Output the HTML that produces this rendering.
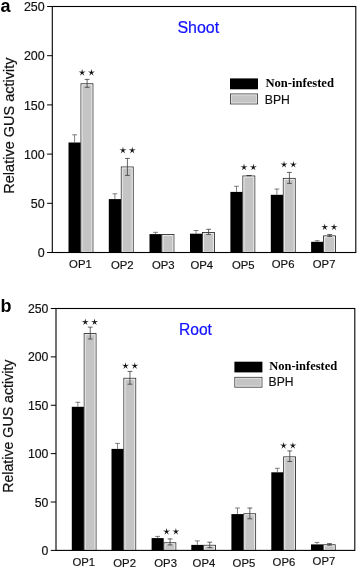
<!DOCTYPE html>
<html><head><meta charset="utf-8"><title>GUS activity</title>
<style>
html,body{margin:0;padding:0;background:#fff;}
body{width:358px;height:569px;overflow:hidden;}
svg{display:block;}
text{font-family:"Liberation Sans",sans-serif;fill:#111;}
.tk{font-size:12.4px;stroke:#111;stroke-width:0.18px;}
.yt{font-size:14.5px;stroke:#111;stroke-width:0.2px;}
.pl{font-size:18px;font-weight:bold;fill:#000;}
.ti{font-size:16px;fill:#1212ff;stroke:#1212ff;stroke-width:0.2px;}
.lg1{font-family:"Liberation Serif",serif;font-weight:bold;font-size:12.6px;fill:#000;}
.lg2{font-size:12.4px;stroke:#111;stroke-width:0.18px;}
.st{font-family:"Liberation Serif",serif;font-weight:bold;font-size:12.6px;fill:#111;}
</style></head><body>
<svg width="358" height="569" viewBox="0 0 358 569">
<defs>
<filter id="idf" x="0" y="0" width="358" height="569" filterUnits="userSpaceOnUse" color-interpolation-filters="sRGB"><feOffset dx="0" dy="0"/></filter>
<pattern id="hatch" width="2" height="2" patternUnits="userSpaceOnUse">
<rect width="2" height="2" fill="#c7c7c7"/>
<rect width="1" height="1" fill="#c2c2c2"/>
<rect x="1" y="1" width="1" height="1" fill="#c2c2c2"/>
</pattern>
</defs>
<rect width="358" height="569" fill="#fff"/>
<g filter="url(#idf)">
<rect x="68.50" y="142.50" width="12.20" height="110.00" fill="#000"/>
<path d="M74.60 142.50V134.80M72.20 134.80H77.00" stroke="#4a4a4a" stroke-width="0.7" fill="none"/>
<rect x="81.00" y="83.80" width="11.90" height="168.70" fill="url(#hatch)" stroke="#2c2c2c" stroke-width="0.9"/>
<rect x="82.00" y="84.80" width="9.90" height="167.20" fill="none" stroke="#e9e9e9" stroke-width="1.1"/>
<path d="M87.10 79.40V87.30M84.70 79.40H89.50M84.70 87.30H89.50" stroke="#333" stroke-width="0.75" fill="none"/>
<polygon points="82.15,69.00 82.80,71.81 85.67,71.56 83.20,73.04 84.32,75.69 82.15,73.80 79.98,75.69 81.10,73.04 78.63,71.56 81.50,71.81" fill="#111"/>
<polygon points="91.45,69.00 92.10,71.81 94.97,71.56 92.50,73.04 93.62,75.69 91.45,73.80 89.28,75.69 90.40,73.04 87.93,71.56 90.80,71.81" fill="#111"/>
<text transform="translate(69.10 268.20) scale(0.96 1)" class="tk" style="font-size:11.8px">OP1</text>
<rect x="108.80" y="199.10" width="12.20" height="53.40" fill="#000"/>
<path d="M114.90 199.10V193.80M112.50 193.80H117.30" stroke="#4a4a4a" stroke-width="0.7" fill="none"/>
<rect x="121.30" y="167.00" width="11.90" height="85.50" fill="url(#hatch)" stroke="#2c2c2c" stroke-width="0.9"/>
<rect x="122.30" y="168.00" width="9.90" height="84.00" fill="none" stroke="#e9e9e9" stroke-width="1.1"/>
<path d="M127.40 158.40V175.40M125.00 158.40H129.80M125.00 175.40H129.80" stroke="#333" stroke-width="0.75" fill="none"/>
<polygon points="122.95,146.80 123.60,149.61 126.47,149.36 124.00,150.84 125.12,153.49 122.95,151.60 120.78,153.49 121.90,150.84 119.43,149.36 122.30,149.61" fill="#111"/>
<polygon points="132.25,146.80 132.90,149.61 135.77,149.36 133.30,150.84 134.42,153.49 132.25,151.60 130.08,153.49 131.20,150.84 128.73,149.36 131.60,149.61" fill="#111"/>
<text transform="translate(111.00 269.20) scale(0.96 1)" class="tk" style="font-size:11.8px">OP2</text>
<rect x="149.50" y="234.10" width="12.20" height="18.40" fill="#000"/>
<path d="M155.60 234.10V232.30M153.20 232.30H158.00" stroke="#4a4a4a" stroke-width="0.7" fill="none"/>
<rect x="162.00" y="234.50" width="11.90" height="18.00" fill="url(#hatch)" stroke="#2c2c2c" stroke-width="0.9"/>
<rect x="163.00" y="235.50" width="9.90" height="16.50" fill="none" stroke="#e9e9e9" stroke-width="1.1"/>
<text transform="translate(152.00 269.30) scale(0.96 1)" class="tk" style="font-size:11.8px">OP3</text>
<rect x="190.00" y="233.70" width="12.20" height="18.80" fill="#000"/>
<path d="M196.10 233.70V230.50M193.70 230.50H198.50" stroke="#4a4a4a" stroke-width="0.7" fill="none"/>
<rect x="202.50" y="232.50" width="11.90" height="20.00" fill="url(#hatch)" stroke="#2c2c2c" stroke-width="0.9"/>
<rect x="203.50" y="233.50" width="9.90" height="18.50" fill="none" stroke="#e9e9e9" stroke-width="1.1"/>
<path d="M208.60 229.30V234.40M206.20 229.30H211.00M206.20 234.40H211.00" stroke="#333" stroke-width="0.75" fill="none"/>
<text transform="translate(190.40 269.30) scale(0.96 1)" class="tk" style="font-size:11.8px">OP4</text>
<rect x="230.40" y="191.90" width="12.20" height="60.60" fill="#000"/>
<path d="M236.50 191.90V186.30M234.10 186.30H238.90" stroke="#4a4a4a" stroke-width="0.7" fill="none"/>
<rect x="242.90" y="176.00" width="11.90" height="76.50" fill="url(#hatch)" stroke="#2c2c2c" stroke-width="0.9"/>
<rect x="243.90" y="177.00" width="9.90" height="75.00" fill="none" stroke="#e9e9e9" stroke-width="1.1"/>
<path d="M249.00 175.60V175.60M246.60 175.60H251.40M246.60 175.60H251.40" stroke="#333" stroke-width="0.75" fill="none"/>
<polygon points="244.05,163.60 244.70,166.41 247.57,166.16 245.10,167.64 246.22,170.29 244.05,168.40 241.88,170.29 243.00,167.64 240.53,166.16 243.40,166.41" fill="#111"/>
<polygon points="253.35,163.60 254.00,166.41 256.87,166.16 254.40,167.64 255.52,170.29 253.35,168.40 251.18,170.29 252.30,167.64 249.83,166.16 252.70,166.41" fill="#111"/>
<text transform="translate(231.90 269.10) scale(0.96 1)" class="tk" style="font-size:11.8px">OP5</text>
<rect x="270.80" y="194.80" width="12.20" height="57.70" fill="#000"/>
<path d="M276.90 194.80V189.00M274.50 189.00H279.30" stroke="#4a4a4a" stroke-width="0.7" fill="none"/>
<rect x="283.30" y="178.40" width="11.90" height="74.10" fill="url(#hatch)" stroke="#2c2c2c" stroke-width="0.9"/>
<rect x="284.30" y="179.40" width="9.90" height="72.60" fill="none" stroke="#e9e9e9" stroke-width="1.1"/>
<path d="M289.40 172.40V183.40M287.00 172.40H291.80M287.00 183.40H291.80" stroke="#333" stroke-width="0.75" fill="none"/>
<polygon points="284.05,160.90 284.70,163.71 287.57,163.46 285.10,164.94 286.22,167.59 284.05,165.70 281.88,167.59 283.00,164.94 280.53,163.46 283.40,163.71" fill="#111"/>
<polygon points="293.35,160.90 294.00,163.71 296.87,163.46 294.40,164.94 295.52,167.59 293.35,165.70 291.18,167.59 292.30,164.94 289.83,163.46 292.70,163.71" fill="#111"/>
<text transform="translate(271.80 268.30) scale(0.96 1)" class="tk" style="font-size:11.8px">OP6</text>
<rect x="311.10" y="241.80" width="12.20" height="10.70" fill="#000"/>
<path d="M317.20 241.80V240.70M314.80 240.70H319.60" stroke="#4a4a4a" stroke-width="0.7" fill="none"/>
<rect x="323.60" y="235.90" width="11.90" height="16.60" fill="url(#hatch)" stroke="#2c2c2c" stroke-width="0.9"/>
<rect x="324.60" y="236.90" width="9.90" height="15.10" fill="none" stroke="#e9e9e9" stroke-width="1.1"/>
<path d="M329.70 234.50V236.50M327.30 234.50H332.10M327.30 236.50H332.10" stroke="#333" stroke-width="0.75" fill="none"/>
<polygon points="324.75,223.50 325.40,226.31 328.27,226.06 325.80,227.54 326.92,230.19 324.75,228.30 322.58,230.19 323.70,227.54 321.23,226.06 324.10,226.31" fill="#111"/>
<polygon points="334.05,223.50 334.70,226.31 337.57,226.06 335.10,227.54 336.22,230.19 334.05,228.30 331.88,230.19 333.00,227.54 330.53,226.06 333.40,226.31" fill="#111"/>
<text transform="translate(312.80 268.30) scale(0.96 1)" class="tk" style="font-size:11.8px">OP7</text>
<rect x="52.30" y="6.50" width="303.50" height="246.00" fill="none" stroke="#000" stroke-width="1.1"/>
<path d="M47.10 6.50H52.30" stroke="#000" stroke-width="1"/>
<text transform="translate(44.70 11.10) scale(0.96 1)" text-anchor="end" class="tk" style="font-size:13px">250</text>
<path d="M47.10 55.70H52.30" stroke="#000" stroke-width="1"/>
<text transform="translate(44.70 60.30) scale(0.96 1)" text-anchor="end" class="tk" style="font-size:13px">200</text>
<path d="M47.10 104.90H52.30" stroke="#000" stroke-width="1"/>
<text transform="translate(44.70 109.50) scale(0.96 1)" text-anchor="end" class="tk" style="font-size:13px">150</text>
<path d="M47.10 154.10H52.30" stroke="#000" stroke-width="1"/>
<text transform="translate(44.70 158.70) scale(0.96 1)" text-anchor="end" class="tk" style="font-size:13px">100</text>
<path d="M47.10 203.30H52.30" stroke="#000" stroke-width="1"/>
<text transform="translate(44.70 207.90) scale(0.96 1)" text-anchor="end" class="tk" style="font-size:13px">50</text>
<path d="M47.10 252.50H52.30" stroke="#000" stroke-width="1"/>
<text transform="translate(44.70 257.10) scale(0.96 1)" text-anchor="end" class="tk" style="font-size:13px">0</text>
<text transform="translate(14.40 125.60) rotate(-90)" text-anchor="middle" class="yt" style="font-size:14.5px">Relative GUS activity</text>
<text x="0.60" y="11.90" class="pl">a</text>
<text x="177.40" y="33.10" class="ti" style="font-size:16px">Shoot</text>
<rect x="230.00" y="78.40" width="28" height="10.90" fill="#000"/>
<rect x="230.45" y="93.95" width="27.1" height="10.00" fill="url(#hatch)" stroke="#3a3a3a" stroke-width="0.9"/>
<rect x="231.45" y="94.95" width="25.1" height="8.00" fill="none" stroke="#dedede" stroke-width="1"/>
<text x="265.40" y="87.10" class="lg1" style="font-size:12.6px">Non-infested</text>
<text transform="translate(264.80 103.60) scale(0.97 1)" class="lg2" style="font-size:12.6px">BPH</text>
<rect x="71.80" y="406.80" width="12.10" height="143.60" fill="#000"/>
<path d="M77.85 406.80V402.30M75.45 402.30H80.25" stroke="#4a4a4a" stroke-width="0.7" fill="none"/>
<rect x="84.20" y="333.60" width="11.80" height="216.80" fill="url(#hatch)" stroke="#2c2c2c" stroke-width="0.9"/>
<rect x="85.20" y="334.60" width="9.80" height="215.30" fill="none" stroke="#e9e9e9" stroke-width="1.1"/>
<path d="M90.25 327.10V339.00M87.85 327.10H92.65M87.85 339.00H92.65" stroke="#333" stroke-width="0.75" fill="none"/>
<polygon points="85.30,318.40 85.95,321.21 88.82,320.96 86.35,322.44 87.47,325.09 85.30,323.20 83.13,325.09 84.25,322.44 81.78,320.96 84.65,321.21" fill="#111"/>
<polygon points="94.60,318.40 95.25,321.21 98.12,320.96 95.65,322.44 96.77,325.09 94.60,323.20 92.43,325.09 93.55,322.44 91.08,320.96 93.95,321.21" fill="#111"/>
<text transform="translate(72.40 565.50) scale(0.96 1)" class="tk" style="font-size:11.8px">OP1</text>
<rect x="111.50" y="448.90" width="12.10" height="101.50" fill="#000"/>
<path d="M117.55 448.90V443.40M115.15 443.40H119.95" stroke="#4a4a4a" stroke-width="0.7" fill="none"/>
<rect x="123.90" y="378.30" width="11.80" height="172.10" fill="url(#hatch)" stroke="#2c2c2c" stroke-width="0.9"/>
<rect x="124.90" y="379.30" width="9.80" height="170.60" fill="none" stroke="#e9e9e9" stroke-width="1.1"/>
<path d="M129.95 371.40V384.20M127.55 371.40H132.35M127.55 384.20H132.35" stroke="#333" stroke-width="0.75" fill="none"/>
<polygon points="125.50,362.20 126.15,365.01 129.02,364.76 126.55,366.24 127.67,368.89 125.50,367.00 123.33,368.89 124.45,366.24 121.98,364.76 124.85,365.01" fill="#111"/>
<polygon points="134.80,362.20 135.45,365.01 138.32,364.76 135.85,366.24 136.97,368.89 134.80,367.00 132.63,368.89 133.75,366.24 131.28,364.76 134.15,365.01" fill="#111"/>
<text transform="translate(113.30 566.60) scale(0.96 1)" class="tk" style="font-size:11.8px">OP2</text>
<rect x="151.60" y="538.10" width="12.10" height="12.30" fill="#000"/>
<path d="M157.65 538.10V536.40M155.25 536.40H160.05" stroke="#4a4a4a" stroke-width="0.7" fill="none"/>
<rect x="164.00" y="542.80" width="11.80" height="7.60" fill="url(#hatch)" stroke="#2c2c2c" stroke-width="0.9"/>
<rect x="165.00" y="543.80" width="9.80" height="6.10" fill="none" stroke="#e9e9e9" stroke-width="1.1"/>
<path d="M170.05 538.90V544.90M167.65 538.90H172.45M167.65 544.90H172.45" stroke="#333" stroke-width="0.75" fill="none"/>
<polygon points="166.60,528.00 167.25,530.81 170.12,530.56 167.65,532.04 168.77,534.69 166.60,532.80 164.43,534.69 165.55,532.04 163.08,530.56 165.95,530.81" fill="#111"/>
<polygon points="175.90,528.00 176.55,530.81 179.42,530.56 176.95,532.04 178.07,534.69 175.90,532.80 173.73,534.69 174.85,532.04 172.38,530.56 175.25,530.81" fill="#111"/>
<text transform="translate(154.30 567.10) scale(0.96 1)" class="tk" style="font-size:11.8px">OP3</text>
<rect x="191.30" y="544.90" width="12.10" height="5.50" fill="#000"/>
<path d="M197.35 544.90V540.90M194.95 540.90H199.75" stroke="#4a4a4a" stroke-width="0.7" fill="none"/>
<rect x="203.70" y="545.30" width="11.80" height="5.10" fill="url(#hatch)" stroke="#2c2c2c" stroke-width="0.9"/>
<rect x="204.70" y="546.30" width="9.80" height="3.60" fill="none" stroke="#e9e9e9" stroke-width="1.1"/>
<path d="M209.75 542.20V547.60M207.35 542.20H212.15M207.35 547.60H212.15" stroke="#333" stroke-width="0.75" fill="none"/>
<text transform="translate(192.60 567.10) scale(0.96 1)" class="tk" style="font-size:11.8px">OP4</text>
<rect x="231.40" y="514.10" width="12.10" height="36.30" fill="#000"/>
<path d="M237.45 514.10V508.00M235.05 508.00H239.85" stroke="#4a4a4a" stroke-width="0.7" fill="none"/>
<rect x="243.80" y="513.80" width="11.80" height="36.60" fill="url(#hatch)" stroke="#2c2c2c" stroke-width="0.9"/>
<rect x="244.80" y="514.80" width="9.80" height="35.10" fill="none" stroke="#e9e9e9" stroke-width="1.1"/>
<path d="M249.85 508.00V518.80M247.45 508.00H252.25M247.45 518.80H252.25" stroke="#333" stroke-width="0.75" fill="none"/>
<text transform="translate(232.60 566.60) scale(0.96 1)" class="tk" style="font-size:11.8px">OP5</text>
<rect x="271.30" y="472.30" width="12.10" height="78.10" fill="#000"/>
<path d="M277.35 472.30V468.30M274.95 468.30H279.75" stroke="#4a4a4a" stroke-width="0.7" fill="none"/>
<rect x="283.70" y="456.90" width="11.80" height="93.50" fill="url(#hatch)" stroke="#2c2c2c" stroke-width="0.9"/>
<rect x="284.70" y="457.90" width="9.80" height="92.00" fill="none" stroke="#e9e9e9" stroke-width="1.1"/>
<path d="M289.75 450.90V461.50M287.35 450.90H292.15M287.35 461.50H292.15" stroke="#333" stroke-width="0.75" fill="none"/>
<polygon points="283.60,442.00 284.25,444.81 287.12,444.56 284.65,446.04 285.77,448.69 283.60,446.80 281.43,448.69 282.55,446.04 280.08,444.56 282.95,444.81" fill="#111"/>
<polygon points="292.90,442.00 293.55,444.81 296.42,444.56 293.95,446.04 295.07,448.69 292.90,446.80 290.73,448.69 291.85,446.04 289.38,444.56 292.25,444.81" fill="#111"/>
<text transform="translate(272.60 565.50) scale(0.96 1)" class="tk" style="font-size:11.8px">OP6</text>
<rect x="311.00" y="544.40" width="12.10" height="6.00" fill="#000"/>
<path d="M317.05 544.40V542.40M314.65 542.40H319.45" stroke="#4a4a4a" stroke-width="0.7" fill="none"/>
<rect x="323.40" y="544.80" width="11.80" height="5.60" fill="url(#hatch)" stroke="#2c2c2c" stroke-width="0.9"/>
<rect x="324.40" y="545.80" width="9.80" height="4.10" fill="none" stroke="#e9e9e9" stroke-width="1.1"/>
<path d="M329.45 543.60V545.20M327.05 543.60H331.85M327.05 545.20H331.85" stroke="#333" stroke-width="0.75" fill="none"/>
<text transform="translate(312.60 565.40) scale(0.96 1)" class="tk" style="font-size:11.8px">OP7</text>
<rect x="56.00" y="308.50" width="298.80" height="241.90" fill="none" stroke="#000" stroke-width="1.1"/>
<path d="M50.80 308.50H56.00" stroke="#000" stroke-width="1"/>
<text transform="translate(48.40 313.10) scale(0.96 1)" text-anchor="end" class="tk" style="font-size:12.8px">250</text>
<path d="M50.80 356.88H56.00" stroke="#000" stroke-width="1"/>
<text transform="translate(48.40 361.48) scale(0.96 1)" text-anchor="end" class="tk" style="font-size:12.8px">200</text>
<path d="M50.80 405.26H56.00" stroke="#000" stroke-width="1"/>
<text transform="translate(48.40 409.86) scale(0.96 1)" text-anchor="end" class="tk" style="font-size:12.8px">150</text>
<path d="M50.80 453.64H56.00" stroke="#000" stroke-width="1"/>
<text transform="translate(48.40 458.24) scale(0.96 1)" text-anchor="end" class="tk" style="font-size:12.8px">100</text>
<path d="M50.80 502.02H56.00" stroke="#000" stroke-width="1"/>
<text transform="translate(48.40 506.62) scale(0.96 1)" text-anchor="end" class="tk" style="font-size:12.8px">50</text>
<path d="M50.80 550.40H56.00" stroke="#000" stroke-width="1"/>
<text transform="translate(48.40 555.00) scale(0.96 1)" text-anchor="end" class="tk" style="font-size:12.8px">0</text>
<text transform="translate(13.20 426.20) rotate(-90)" text-anchor="middle" class="yt" style="font-size:14.2px">Relative GUS activity</text>
<text x="0.60" y="312.20" class="pl">b</text>
<text x="179.00" y="335.00" class="ti" style="font-size:15.6px">Root</text>
<rect x="234.40" y="361.70" width="28" height="10.70" fill="#000"/>
<rect x="234.85" y="377.35" width="27.1" height="9.80" fill="url(#hatch)" stroke="#3a3a3a" stroke-width="0.9"/>
<rect x="235.85" y="378.35" width="25.1" height="7.80" fill="none" stroke="#dedede" stroke-width="1"/>
<text x="269.20" y="369.50" class="lg1" style="font-size:12.5px">Non-infested</text>
<text transform="translate(268.60 386.30) scale(0.97 1)" class="lg2" style="font-size:12.5px">BPH</text>
</g>
</svg>
</body></html>
